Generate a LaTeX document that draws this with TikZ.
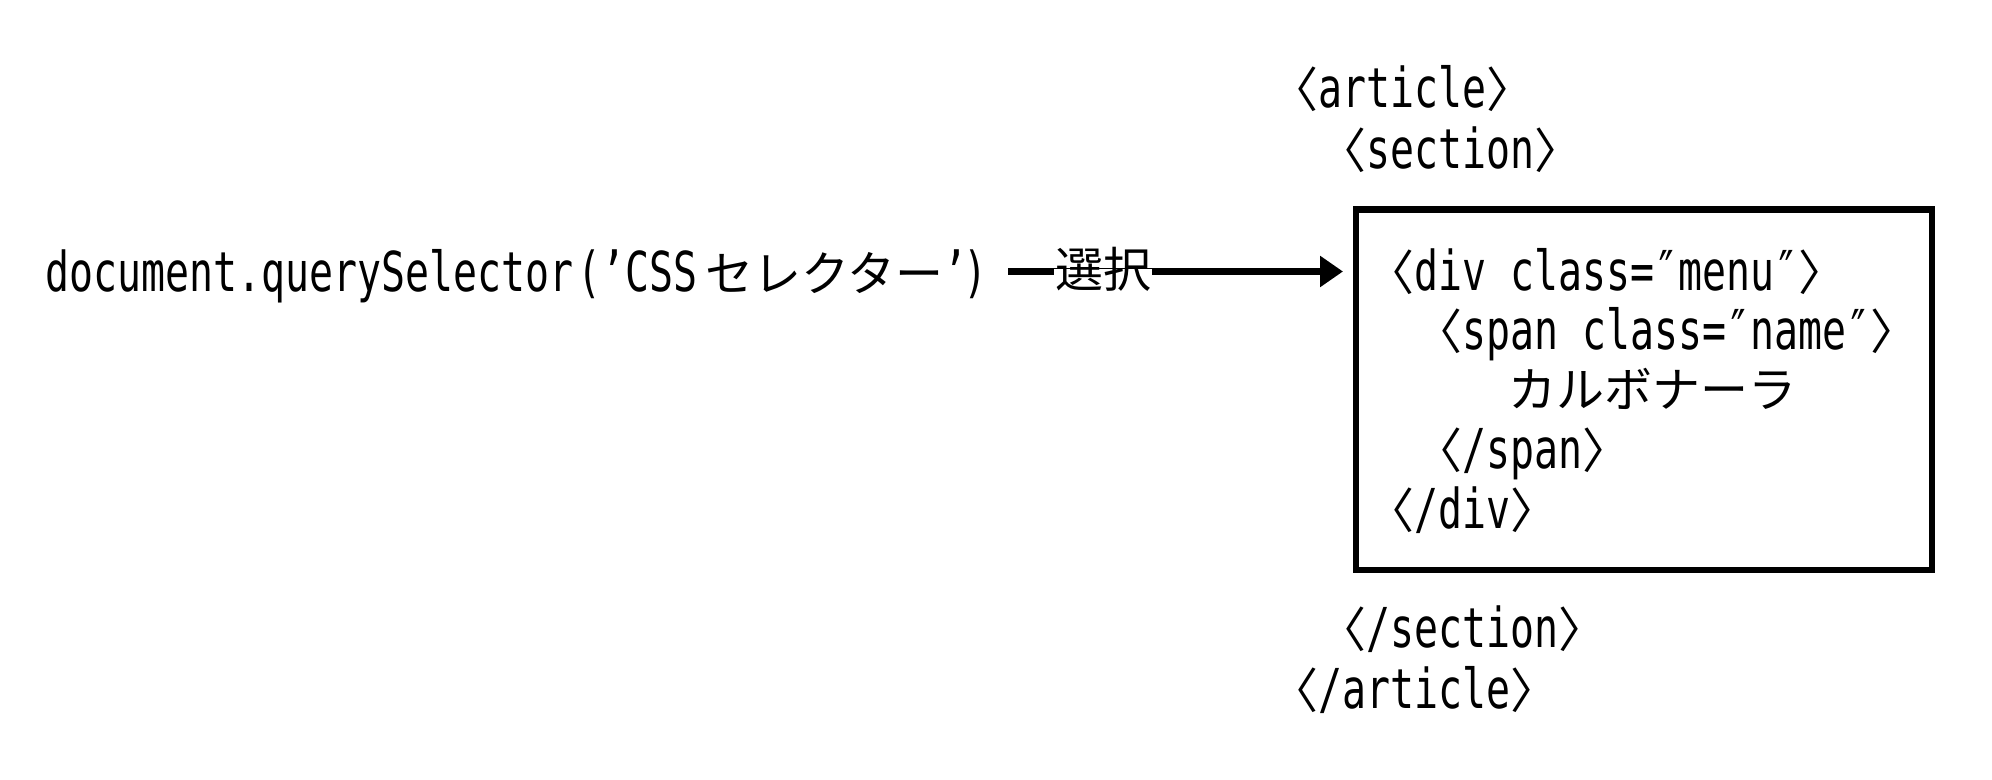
\documentclass[tikz,border=0pt]{standalone}
\usepackage{fontspec}
\setmainfont{Noto Sans CJK JP}
\newfontfamily\cjkfam{Noto Sans CJK JP}
\newfontfamily\monofam[FakeStretch=0.725]{DejaVu Sans Mono}
\usetikzlibrary{arrows.meta}
\newcommand\lat{\monofam\fontsize{27.5pt}{30pt}\selectfont}
\newcommand\jpn{\cjkfam\fontsize{24pt}{30pt}\selectfont}
\newcommand\tagL{{\jpn\makebox[12pt][r]{〈}}}
\newcommand\tagR{{\jpn\makebox[12pt][l]{〉}}}
\newcommand\msp{\hspace{12pt}}
\begin{document}
\begin{tikzpicture}[x=0.5pt,y=-0.5pt,
  txt/.style={anchor=base west, inner sep=0pt, font=\lat},
  boxline/.style={draw, line width=3.25pt, outer sep=0pt},
  arrowline/.style={line width=3.5pt, -{Triangle[length=11.5pt,width=15pt]}},
  lbl/.style={fill=white, inner xsep=0.5pt, inner ysep=0pt, text height=0.88em, text depth=0.12em,
    font=\jpn, yshift=-4pt}]
\useasboundingbox (0,0) rectangle (1992,780);
\node[txt] (q) at (45,292) {document.querySelector\kern2pt(’CSS{\jpn\kern4pt セレクター}’\kern-2pt)};
\coordinate (s) at (1008,271.5);
\node[boxline, minimum width=288pt, minimum height=180.25pt, anchor=north west, inner sep=0pt] (box) at (1356,209.5) {};
\draw[arrowline, shorten >=6.5pt] (s) -- (box.west |- s) node[lbl, pos=0.274] (sel) {選択};
\node[txt] (a1) at (1294,108) {\tagL article\tagR};
\node[txt] (a2) at (1342,169) {\tagL section\tagR};
\node[txt] (a3) at (1390,291) {\tagL div\msp class=″menu″\tagR};
\node[txt] (a4) at (1438,350) {\tagL span\msp class=″name″\tagR};
\node[txt, font=\jpn] (a5) at (1508,408) {カルボナーラ};
\node[txt] (a6) at (1438,469) {\tagL/span\tagR};
\node[txt] (a7) at (1390,528) {\tagL/div\tagR};
\node[txt] (a8) at (1342,647) {\tagL/section\tagR};
\node[txt] (a9) at (1294,708) {\tagL/article\tagR};
\end{tikzpicture}
\end{document}
